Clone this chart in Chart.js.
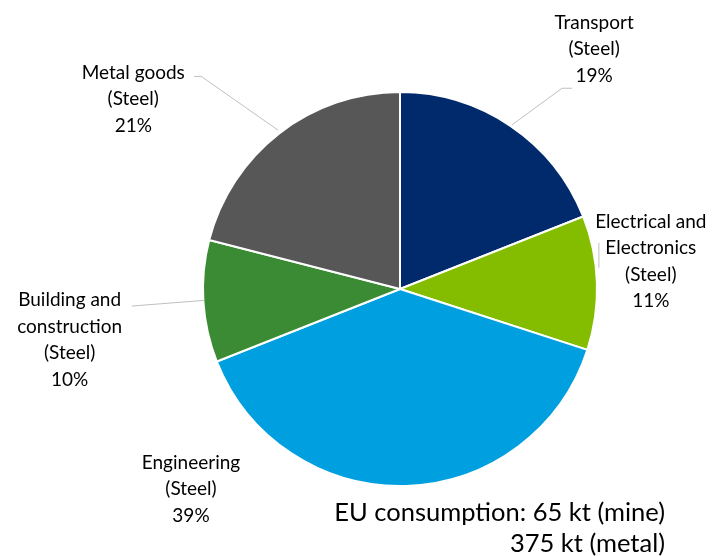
<!DOCTYPE html>
<html>
<head>
<meta charset="utf-8">
<script src="https://cdn.jsdelivr.net/npm/chart.js@4.4.1/dist/chart.umd.min.js"></script>
<style>
html,body{margin:0;padding:0;background:#fff;}
#wrap{position:relative;width:713px;height:556px;}
</style>
</head>
<body>
<div id="wrap"><canvas id="c" width="713" height="556"></canvas></div>
<script>
const categories = [
  ["Transport", "(Steel)"],
  ["Electrical and", "Electronics", "(Steel)"],
  ["Engineering", "(Steel)"],
  ["Building and", "construction", "(Steel)"],
  ["Metal goods", "(Steel)"]
];
const shares = [19, 11, 39, 10, 21];
const colors = ["#002A6C", "#84BD00", "#00A0E0", "#3A8B33", "#575757"];
const footnote = ["EU consumption: 65 kt (mine)", "375 kt (metal)"];

// label placement, relative to pie centre in units of radius (style only)
const labelPos = [
  {x: 0.985, y: -1.217},
  {x: 1.273, y: -0.141},
  {x: -1.061, y: 1.015},
  {x: -1.677, y: 0.258},
  {x: -1.354, y: -0.965}
];

const FONT = "Lato, 'Open Sans', sans-serif";

const labelPlugin = {
  id: 'pieLabels',
  afterDraw(chart) {
    const ctx = chart.ctx;
    const meta = chart.getDatasetMeta(0);
    ctx.save();
    meta.data.forEach((arc, i) => {
      const p = arc.getProps(['x','y','startAngle','endAngle','outerRadius'], true);
      const r = p.outerRadius;
      const mid = (p.startAngle + p.endAngle) / 2;
      const ox = p.x + Math.cos(mid) * r;
      const oy = p.y + Math.sin(mid) * r;
      const lx = p.x + labelPos[i].x * r;
      const ly = p.y + labelPos[i].y * r;
      const lines = categories[i].concat([shares[i] + "%"]);
      const lh = 26.5;
      const top = ly - (lines.length - 1) * lh / 2;
      // leader lines
      ctx.strokeStyle = "#BFBFBF";
      ctx.lineWidth = 1;
      ctx.beginPath();
      if (i === 0) {
        ctx.moveTo(ox + 1, oy - 1);
        ctx.lineTo(lx - 32, ly + 39);
        ctx.lineTo(lx - 22, ly + 39);
      } else if (i === 1) {
        ctx.moveTo(ox + 2, oy - 40);
        ctx.lineTo(ox + 2, oy - 15);
      } else if (i === 3) {
        ctx.moveTo(ox + 1, oy - 1);
        ctx.lineTo(lx + 62, top + 6);
      } else if (i === 4) {
        ctx.moveTo(ox - 1, oy - 3);
        ctx.lineTo(lx + 68, top + 4);
        ctx.lineTo(lx + 61, top + 4);
      }
      ctx.stroke();
      ctx.fillStyle = "#000";
      ctx.font = "19px " + FONT;
      ctx.textAlign = "center";
      ctx.textBaseline = "middle";
      lines.forEach((t, k) => ctx.fillText(t, lx, top + k * lh));
    });
    // footnote
    ctx.font = "25.5px " + FONT;
    ctx.textAlign = "right";
    ctx.textBaseline = "alphabetic";
    ctx.fillStyle = "#000";
    ctx.fillText(footnote[0], 665, 521);
    ctx.fillText(footnote[1], 665, 552);
    ctx.restore();
  }
};

new Chart(document.getElementById('c'), {
  type: 'pie',
  data: {
    labels: categories.map(c => c.join(' ')),
    datasets: [{
      data: shares,
      backgroundColor: colors,
      borderColor: "#FFFFFF",
      borderWidth: 2
    }]
  },
  options: {
    responsive: false,
    animation: false,
    layout: {padding: {left: 202, right: 115, top: 91, bottom: 69}},
    plugins: {legend: {display: false}, tooltip: {enabled: false}}
  },
  plugins: [labelPlugin]
});
</script>
</body>
</html>
